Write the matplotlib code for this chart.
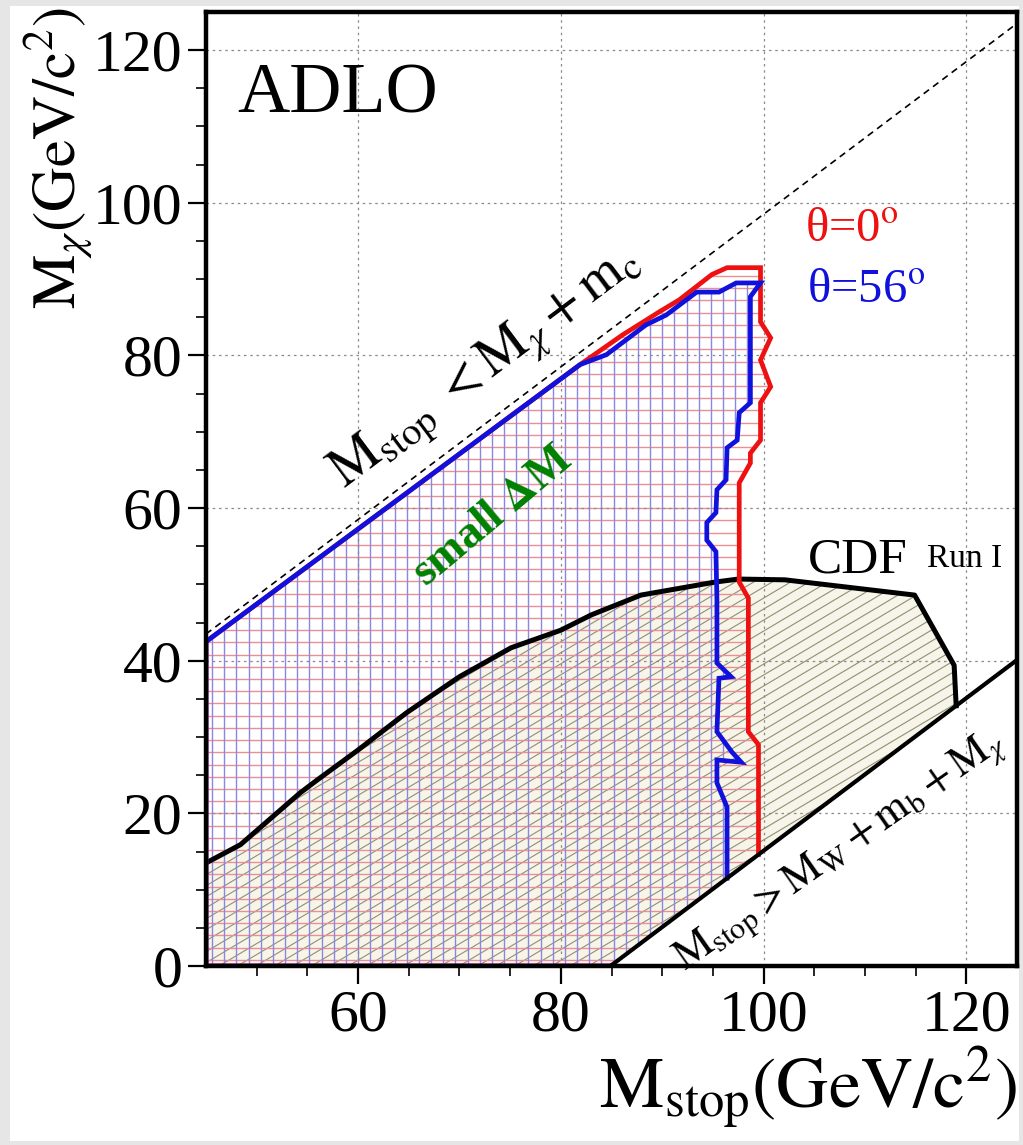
import numpy as np
import matplotlib
matplotlib.use('Agg')
import matplotlib.pyplot as plt
from matplotlib.patches import Polygon, Rectangle
from matplotlib.collections import LineCollection

plt.rcParams['font.family'] = ['Liberation Serif', 'DejaVu Serif']
plt.rcParams['mathtext.fontset'] = 'stix'

# kinematic limits
dash_x = [45.0, 125.0]          # M_stop = M_chi + m_c
dash_y = [43.5, 123.5]
kin_x = [84.9, 125.0]           # M_stop = M_W + m_b + M_chi
kin_y = [0.0, 40.1]

# theta = 56 deg excluded region (blue)
blue_x = [84.9, 45.0, 45.0, 81.9, 84.5, 88.4, 90.4, 93.4, 95.6, 97.3, 99.7, 98.7, 98.7, 97.6,
          97.4, 96.4, 96.3, 95.4, 95.3, 94.4, 94.4, 95.3, 95.4, 95.4, 96.8, 95.6, 95.4, 96.9,
          97.8, 95.4, 95.4, 96.4, 96.4]
blue_y = [0.0, 0.0, 42.5, 78.8, 80.1, 84.0, 85.3, 88.3, 88.3, 89.5, 89.5, 87.7, 73.8, 72.5,
          68.9, 67.9, 63.7, 62.4, 59.4, 58.1, 55.8, 54.3, 48.0, 39.7, 37.9, 37.7, 30.7, 28.0,
          26.7, 27.0, 24.0, 20.8, 11.5]

# theta = 0 deg excluded region (red)
red_x = [84.9, 45.0, 45.0, 81.9, 86.1, 89.7, 91.7, 94.9, 96.4, 99.7, 99.7, 100.7, 99.7, 100.7,
         99.7, 99.7, 98.7, 98.7, 97.6, 97.6, 98.5, 98.5, 99.5, 99.5]
red_y = [0.0, 0.0, 42.5, 78.8, 82.7, 85.7, 87.3, 90.6, 91.5, 91.5, 84.4, 82.3, 79.4, 75.9,
         73.8, 68.9, 67.2, 65.9, 63.3, 50.3, 48.2, 30.7, 29.0, 14.6]

# CDF Run I excluded region
cdf_x = [45.0, 48.4, 54.3, 56.0, 60.0, 64.8, 70.0, 75.1, 80.0, 83.0, 87.9, 95.2, 97.5,
         102.1, 114.9, 118.8, 119.0]
cdf_y = [13.5, 15.9, 22.7, 24.4, 28.3, 33.2, 37.9, 41.7, 44.0, 46.0, 48.6, 50.3, 50.7,
         50.6, 48.6, 39.4, 34.1]

fig = plt.figure(figsize=(10.23, 11.45), dpi=100, facecolor='#e6e6e6')
fig.patches.append(Rectangle((10 / 1023, 4 / 1145), 1009 / 1023, 1135 / 1145,
                             transform=fig.transFigure, facecolor='white',
                             edgecolor='none', zorder=-10))
ax = fig.add_axes([206 / 1023, 1 - 966 / 1145, 811 / 1023, 954 / 1145])
ax.set_xlim(45, 125)
ax.set_ylim(0, 125)

# CDF fill + diagonal hatch
cdf_poly = Polygon(list(zip(cdf_x + [84.9, 45.0], cdf_y + [0.0, 0.0])), closed=True,
                   facecolor='#f7f5e9', edgecolor='none', zorder=1)
ax.add_patch(cdf_poly)
segs = [[(30, 0.79 * 30 + c), (130, 0.79 * 130 + c)] for c in np.arange(-110, 30, 1.44)]
lc = LineCollection(segs, colors='#8f8f72', linewidths=0.8, zorder=1.3)
lc.set_clip_path(cdf_poly)
ax.add_collection(lc)

# red region: horizontal hatch
red_poly = Polygon(list(zip(red_x, red_y)), closed=True, facecolor='none', edgecolor='none')
ax.add_patch(red_poly)
segs = [[(40, y), (130, y)] for y in np.arange(0.8, 95, 1.6)]
lc = LineCollection(segs, colors='#ec8f95', linewidths=1.0, zorder=1.5)
lc.set_clip_path(red_poly)
ax.add_collection(lc)

# blue region: vertical hatch
blue_poly = Polygon(list(zip(blue_x, blue_y)), closed=True, facecolor='none', edgecolor='none')
ax.add_patch(blue_poly)
segs = [[(x, -5), (x, 130)] for x in np.arange(45.6, 101, 1.2)]
lc = LineCollection(segs, colors='#8b86e0', linewidths=1.0, zorder=1.6)
lc.set_clip_path(blue_poly)
ax.add_collection(lc)

# outlines
ax.plot(dash_x, dash_y, color='black', lw=1.2, ls=(0, (4, 3)), zorder=4)
ax.plot(cdf_x, cdf_y, color='black', lw=3.6, zorder=5)
ax.plot(red_x, red_y, color='#ee1111', lw=3.4, zorder=6, solid_joinstyle='miter')
ax.plot(blue_x, blue_y, color='#1111dd', lw=3.4, zorder=7, solid_joinstyle='miter')
ax.plot(kin_x, kin_y, color='black', lw=3.0, zorder=8)

# grid and axes
ax.set_xticks([60, 80, 100, 120])
ax.set_yticks(np.arange(0, 121, 20))
ax.set_xticks(np.arange(50, 125, 5), minor=True)
ax.set_yticks(np.arange(5, 125, 5), minor=True)
ax.grid(True, which='major', color='#8a8a8a', lw=0.9, ls=(0, (2, 3)))
ax.set_axisbelow(False)
ax.tick_params(which='major', direction='out', length=13, width=1.6, labelsize=43, pad=4)
ax.tick_params(which='minor', direction='out', length=7, width=1.2)
for s in ax.spines.values():
    s.set_linewidth(3.2)
    s.set_zorder(10)

ax.set_ylabel(r'$\mathrm{M}_{\chi}\mathrm{(GeV/c}^{2}\mathrm{)}$', fontsize=44, loc='top')
ax.yaxis.set_label_coords(-0.137, 1.005)
ax.set_xlabel(r'$\mathrm{M}_{\mathrm{stop}}\mathrm{(GeV/c}^{2}\mathrm{)}$', fontsize=52, loc='right')
ax.xaxis.set_label_coords(1.0, -0.082)

# labels
ax.text(48.1, 111.8, 'ADLO', fontsize=52, zorder=12)
ax.text(104.1, 94.8, 'θ=0$^{\\mathrm{o}}$', fontsize=35, color='#ee1111', zorder=12)
ax.text(104.3, 86.9, 'θ=56$^{\\mathrm{o}}$', fontsize=35, color='#1111dd', zorder=12)
ax.text(104.4, 51.5, 'CDF', fontsize=37, zorder=12)
ax.text(116.1, 52.3, 'Run I', fontsize=24, zorder=12)
ax.text(73.3, 58.8, r'small $\mathbf{\Delta}$M', fontsize=33, fontweight='bold', color='#008000',
        rotation=40, rotation_mode='anchor', ha='center', va='center', zorder=12)
ax.text(72.7, 78.3, r'$\mathrm{M}_{\mathrm{stop}}\ <\mathrm{M}_{\chi}+\mathrm{m}_{\mathrm{c}}$',
        fontsize=40, rotation=36.8, rotation_mode='anchor', ha='center', va='center', zorder=12)
ax.text(107.7, 14.9, r'$\mathrm{M}_{\mathrm{stop}}>\mathrm{M}_{\mathrm{W}}+\mathrm{m}_{\mathrm{b}}+\mathrm{M}_{\chi}$',
        fontsize=31, rotation=35, rotation_mode='anchor', ha='center', va='center', zorder=12)

plt.savefig('out.png', dpi=100, facecolor=fig.get_facecolor())
